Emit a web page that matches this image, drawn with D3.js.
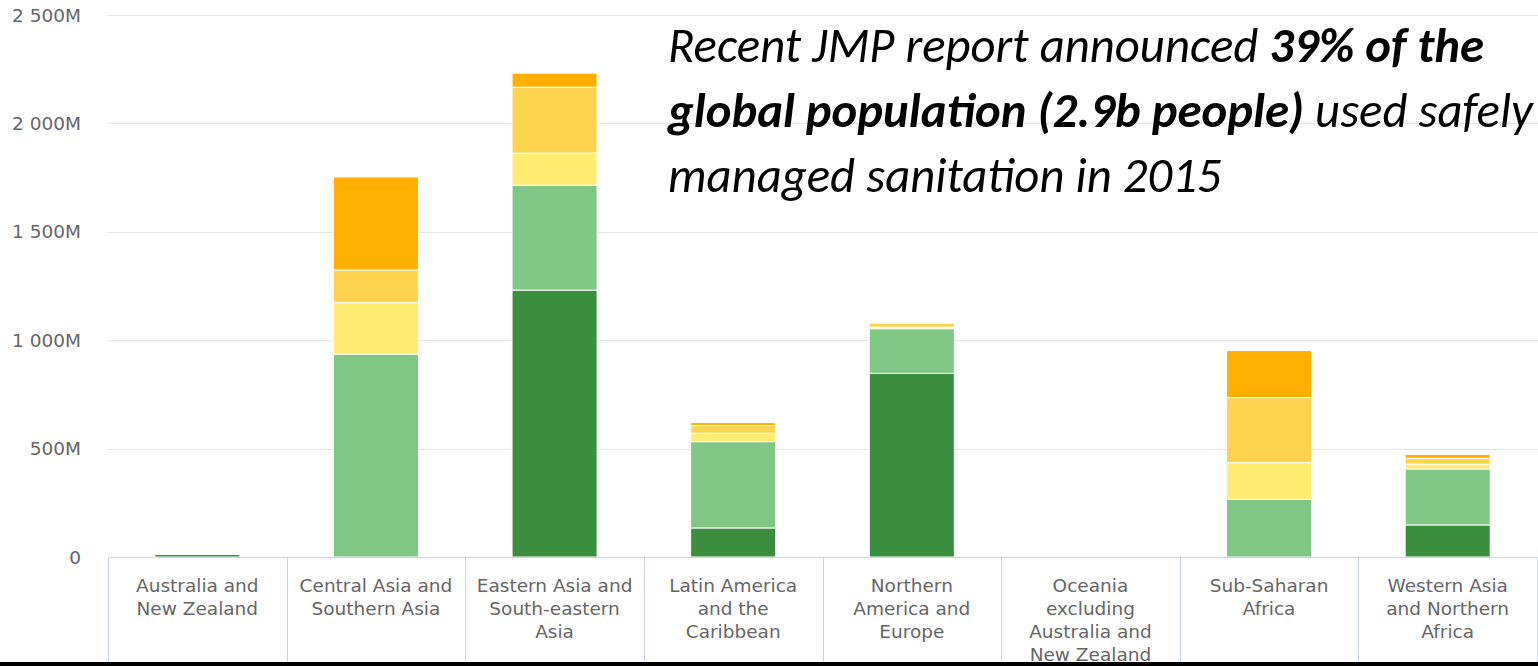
<!DOCTYPE html>
<html>
<head>
<meta charset="utf-8">
<script src="https://cdn.jsdelivr.net/npm/d3@7"></script>
<style>
html, body { margin: 0; padding: 0; background: #fff; }
svg { display: block; }
</style>
</head>
<body>
<svg id="chart" width="1538" height="666"></svg>
<script>
// categories, with the line breaks the axis shows
var categories = [
  'Australia and\nNew Zealand',
  'Central Asia and\nSouthern Asia',
  'Eastern Asia and\nSouth-eastern\nAsia',
  'Latin America\nand the\nCaribbean',
  'Northern\nAmerica and\nEurope',
  'Oceania\nexcluding\nAustralia and\nNew Zealand',
  'Sub-Saharan\nAfrica',
  'Western Asia\nand Northern\nAfrica'
];

// population in millions, by service level (bottom of stack first)
var safelyManaged = [12, 0, 1231, 134, 847, 0, 0, 148];
var basic         = [2, 936, 484, 398, 206, 0, 266, 258];
var limited       = [0, 237, 148, 39, 7, 0, 169, 23];
var unimproved    = [0, 151, 304, 35, 19, 0, 300, 26];
var openDef       = [0, 429, 65, 14, 3, 0, 217, 18];

var seriesKeys = ['safely', 'basic', 'limited', 'unimproved', 'open'];
var seriesColors = ['#3a8e3e', '#80c684', '#ffec70', '#fed34d', '#ffb000'];

var yTicks = [0, 500, 1000, 1500, 2000, 2500];

var noteLines = [
  [['Recent JMP report announced ', false], ['39% of the', true]],
  [['global population (2.9b people)', true], [' used safely', false]],
  [['managed sanitation in 2015', false]]
];

var svg = d3.select('#chart');

var rows = categories.map(function(c, i) {
  return {
    i: i,
    safely: safelyManaged[i],
    basic: basic[i],
    limited: limited[i],
    unimproved: unimproved[i],
    open: openDef[i]
  };
});

var x = d3.scaleBand()
  .domain(d3.range(categories.length))
  .range([108, 1537])
  .paddingInner(0.524)
  .paddingOuter(0.262);

var y = d3.scaleLinear().domain([0, 2500]).range([557, 15]);

var loc = d3.formatLocale({ decimal: '.', thousands: ' ', grouping: [3], currency: ['', ''] });
var fmt = loc.format(',');

// grid lines
svg.append('g')
  .selectAll('line')
  .data(yTicks.slice(1))
  .enter()
    .append('line')
      .attr('x1', 108).attr('x2', 1538)
      .attr('y1', function(d) { return Math.round(y(d)) + 0.5; })
      .attr('y2', function(d) { return Math.round(y(d)) + 0.5; })
      .attr('stroke', '#e6e6e6')
      .attr('stroke-width', 1);

// y labels
svg.append('g')
  .attr('font-family', '"DejaVu Sans", Verdana, sans-serif')
  .attr('font-size', '18.5px')
  .attr('fill', '#666')
  .selectAll('text')
  .data(yTicks)
  .enter()
    .append('text')
      .attr('x', 81)
      .attr('y', function(d) { return y(d); })
      .attr('dy', '0.36em')
      .attr('text-anchor', 'end')
      .text(function(d) { return d === 0 ? '0' : fmt(d) + 'M'; });

// stacked bars
var stack = d3.stack().keys(seriesKeys);
var layers = stack(rows);

svg.append('g')
  .selectAll('g')
  .data(layers)
  .enter()
    .append('g')
      .attr('fill', function(d, k) { return seriesColors[k]; })
    .selectAll('rect')
    .data(function(d) { return d.filter(function(p) { return p[1] - p[0] > 0; }); })
    .enter()
      .append('rect')
        .attr('x', function(p) { return x(p.data.i); })
        .attr('width', x.bandwidth())
        .attr('y', function(p) { return y(p[1]); })
        .attr('height', function(p) { return y(p[0]) - y(p[1]); })
        .attr('stroke', '#fff')
        .attr('stroke-width', 1);

// x axis line and category dividers
var step = x.step();
svg.append('line')
  .attr('x1', 108).attr('x2', 1538)
  .attr('y1', 557.5).attr('y2', 557.5)
  .attr('stroke', '#ccd6eb');

svg.append('g')
  .selectAll('line')
  .data(d3.range(categories.length + 1))
  .enter()
    .append('line')
      .attr('x1', function(i) { return Math.round(108 + i * step) + 0.5; })
      .attr('x2', function(i) { return Math.round(108 + i * step) + 0.5; })
      .attr('y1', 557).attr('y2', 666)
      .attr('stroke', '#ccd6eb');

// x labels
var xl = svg.append('g')
  .attr('font-family', '"DejaVu Sans", Verdana, sans-serif')
  .attr('font-size', '18.5px')
  .attr('fill', '#666')
  .attr('text-anchor', 'middle');

categories.forEach(function(c, i) {
  var t = xl.append('text')
    .attr('x', x(i) + x.bandwidth() / 2)
    .attr('y', 592);
  c.split('\n').forEach(function(line, k) {
    t.append('tspan')
      .attr('x', x(i) + x.bandwidth() / 2)
      .attr('dy', k === 0 ? 0 : 23)
      .text(line);
  });
});

// black band along the bottom edge of the screenshot
svg.append('rect')
  .attr('x', 0).attr('y', 662)
  .attr('width', 1538).attr('height', 4)
  .attr('fill', '#000');

// annotation
var note = svg.append('g')
  .attr('font-family', 'Carlito, Calibri, "Liberation Sans Narrow", "Open Sans", sans-serif')
  .attr('font-style', 'italic')
  .attr('fill', '#000')
  .style('white-space', 'pre')
  .attr('font-size', 40);

var noteTexts = noteLines.map(function(line, i) {
  var t = note.append('text')
    .attr('x', 668)
    .attr('y', 62 + i * 65);
  line.forEach(function(seg) {
    t.append('tspan')
      .attr('font-weight', seg[1] ? 'bold' : 'normal')
      .text(seg[0]);
  });
  return t;
});

// fit the widest line to the width it takes in the picture
var w = noteTexts[1].node().getComputedTextLength();
if (w > 0) note.attr('font-size', 40 * 865 / w);
</script>
</body>
</html>
